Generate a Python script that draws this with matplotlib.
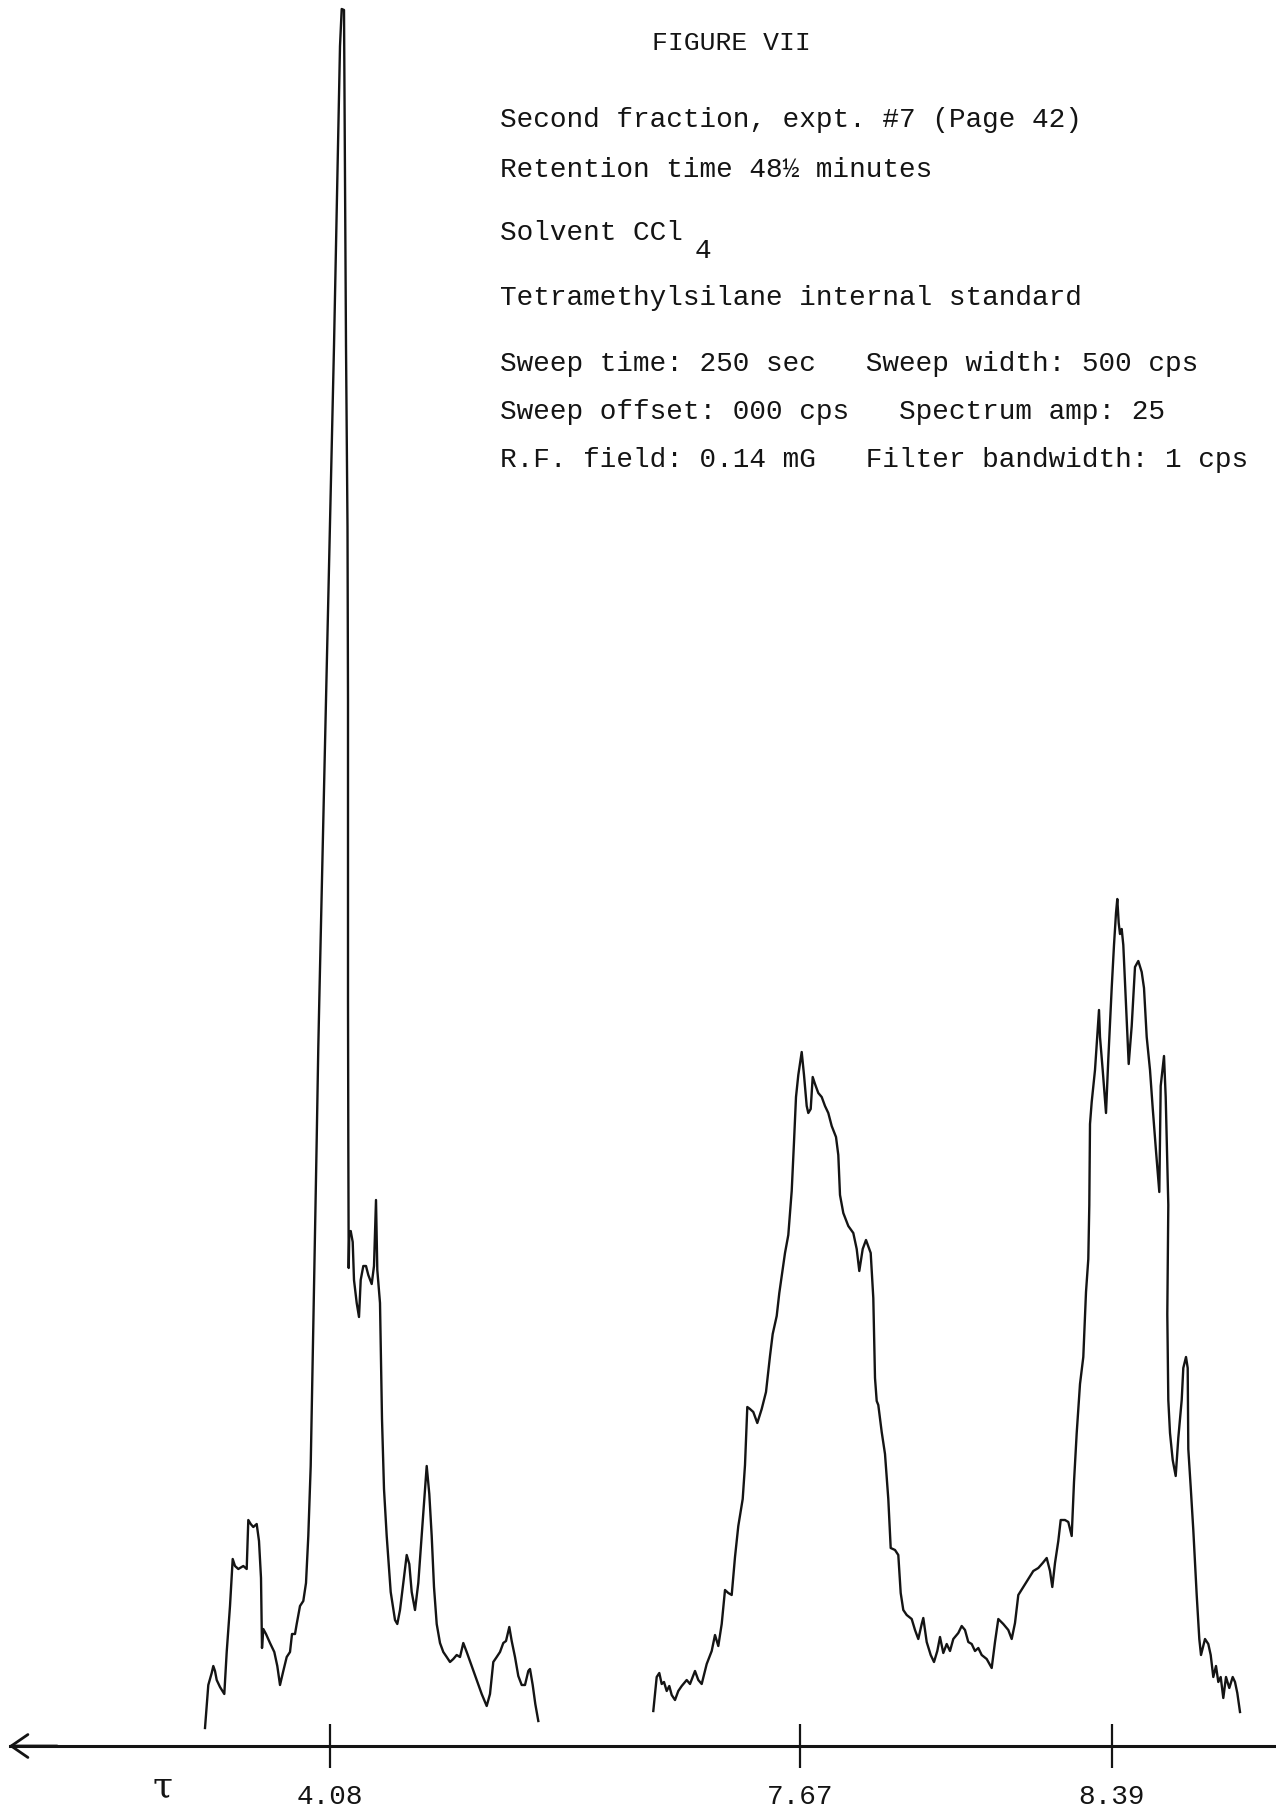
import matplotlib
matplotlib.use("Agg")
import matplotlib.pyplot as plt

# chart paper position (px along the recorder chart) and pen height above baseline
# left group: multiplet, tall sharp line and the small peaks after it
left_x = [205, 208.3, 211.7, 213.3, 215, 216.7, 220, 224.3, 226.7, 230, 232.7, 235,
          238.3, 243.3, 246.7, 248.3, 250.7, 253.3, 256.7, 259, 261, 262, 263.3, 266,
          270, 274.3, 277.3, 280, 283.3, 286.7, 290, 292, 295, 296.7, 300, 303.3, 306,
          308.3, 310.7, 313.3, 316.7, 318.3, 319.3, 326, 334, 340, 341.7, 344, 346,
          347.5, 348, 348, 348.3, 348.7, 349.3, 350.7, 352.7, 354, 356.7, 359, 360.7,
          363.3, 366, 368.3, 371.7, 374, 376, 377.3, 380, 382, 384, 386.7, 390.7, 395,
          397.3, 400, 403.3, 406.7, 409.3, 411.7, 415, 418.3, 423.3, 426.7, 429.3,
          431.7, 434, 436.7, 440, 443.3, 446.7, 450, 453.3, 456.7, 460, 463.3, 466.7,
          471.7, 476.7, 481.7, 486.7, 490, 493.3, 496.7, 500, 503.3, 506, 509.3, 511.7,
          515, 518.3, 521.7, 525, 528.3, 530, 532.7, 535.3, 538.3]
left_h = [18, 61, 73, 80, 75, 66, 59, 52, 94, 140, 187, 180,
          177, 180, 177, 226, 222, 219, 222, 205, 168, 98, 117, 112,
          103, 94, 80, 61, 75, 89, 94, 112, 112, 122, 140, 145, 163,
          210, 280, 420, 606, 699, 746, 1046, 1400, 1700, 1737, 1736, 1400,
          1219, 1046, 746, 606, 478, 513, 515, 504, 466, 443, 429, 466,
          480, 480, 471, 462, 480, 546, 476, 443, 327, 257, 210, 154, 126,
          122, 136, 163, 191, 182, 154, 136, 163, 233, 280, 252,
          210, 159, 122, 103, 94, 89, 84, 87, 91, 89, 103, 94,
          80, 66, 52, 40, 52, 84, 89, 94, 103, 105, 119, 105,
          89, 70, 61, 61, 75, 77, 61, 42, 25]

# right trace: broad band, valley, then the split band at the right
right_x = [653.3, 656.7, 659.3, 661.7, 664, 666.7, 669.3, 671.7, 675, 678.3, 681.7,
           686.7, 690, 695, 698.3, 701.7, 706.7, 711.7, 715, 718.3, 721.7, 725, 728.3,
           731.7, 735, 738.3, 742.7, 745, 747.3, 750, 753.3, 757.3, 761.7, 766, 770,
           772.7, 776.7, 779.3, 781.7, 785, 788.3, 791.7, 794, 796, 798.3, 801.7, 804,
           806.7, 808.3, 810.7, 812.7, 815, 818.3, 821.7, 825, 828.3, 831.7, 836, 838.3,
           840, 843.3, 848.3, 853.3, 856.7, 859.3, 862.7, 866, 869.3, 870.7, 873.3, 875,
           876.7, 878.3, 881.7, 885, 888.3, 890.7, 895, 898.3, 900.7, 903.3, 906.7,
           911.7, 915, 918.3, 921.7, 923.3, 926.7, 930.7, 934, 937.3, 940, 943.3, 946.7,
           950, 953.3, 958.3, 961.7, 965, 968.3, 971.7, 975, 978.3, 981.7, 986.7, 991.7,
           995, 998.3, 1003.3, 1008.3, 1011.7, 1015, 1018.3, 1023.3, 1028.3, 1033.3,
           1038.3, 1042.7, 1046.7, 1050, 1052.3, 1055, 1058.3, 1060.7, 1065, 1068.3,
           1071.7, 1074, 1076.7, 1080, 1083.3, 1086, 1088.3, 1089.3, 1090, 1091.7, 1095,
           1099, 1100, 1102.7, 1106, 1108.3, 1111.7, 1114, 1116, 1117.3, 1118.7, 1120,
           1121.7, 1123.3, 1126, 1128.7, 1131.7, 1135, 1138.3, 1141.7, 1144, 1146.7,
           1150, 1152.7, 1156, 1159.3, 1160.7, 1164, 1165.7, 1167.3, 1168.3, 1167.3,
           1168.3, 1170, 1172.7, 1175.7, 1178.3, 1181.7, 1183.3, 1186, 1187.7, 1188.3,
           1190.7, 1193.3, 1196.7, 1199.3, 1201, 1205, 1208.3, 1210.7, 1213.3, 1216,
           1218.3, 1220.7, 1223.3, 1226, 1229.3, 1232.7, 1235, 1237.3, 1240]
right_h = [35, 69, 73, 62, 64, 55, 60, 51, 46, 55, 60,
           66, 62, 75, 66, 62, 82, 95, 111, 100, 122, 156, 153,
           151, 189, 220, 247, 281, 339, 337, 334, 323, 337, 354, 390,
           412, 430, 453, 470, 493, 511, 555, 604, 649, 671, 694, 671,
           640, 633, 637, 669, 662, 653, 649, 640, 633, 620, 609, 591,
           551, 533, 520, 513, 497, 475, 497, 506, 497, 493, 448, 368,
           345, 341, 314, 292, 247, 198, 196, 191, 153, 136, 131,
           127, 116, 107, 122, 128, 104, 91, 84, 95, 109, 93, 102,
           95, 107, 113, 120, 116, 104, 102, 95, 98, 91, 87, 78,
           104, 127, 122, 116, 107, 123, 151, 159, 167, 175,
           178, 183, 188, 175, 159, 183, 205, 226, 226, 224,
           210, 264, 313, 362, 389, 454, 487, 541, 622, 644, 676,
           736, 709, 676, 633, 687, 758, 801, 833, 847, 823, 812,
           817, 801, 741, 682, 720, 779, 785, 774, 758, 709,
           676, 638, 595, 554, 660, 690, 649, 584, 541, 432,
           346, 313, 286, 270, 308, 346, 378, 389, 378, 297,
           259, 216, 151, 107, 91, 107, 102, 91, 69, 80,
           64, 69, 48, 69, 58, 69, 64, 53, 34]

tick_pos = [330, 800, 1112]
tick_labels = ["4.08", "7.67", "8.39"]

header = [
    "Second fraction, expt. #7 (Page 42)",
    "Retention time 48½ minutes",
    "Solvent CCl",
    "Tetramethylsilane internal standard",
    "Sweep time: 250 sec   Sweep width: 500 cps",
    "Sweep offset: 000 cps   Spectrum amp: 25",
    "R.F. field: 0.14 mG   Filter bandwidth: 1 cps",
]
header_h = [1619, 1569, 1506, 1441, 1375, 1327, 1279]

ink = "#141414"
mono = ["Liberation Mono", "DejaVu Sans Mono"]

fig = plt.figure(figsize=(12.76, 18.11), dpi=100)
fig.patch.set_facecolor("white")
ax = fig.add_axes([0, 0, 1, 1])
ax.set_xlim(0, 1276)
ax.set_ylim(-65, 1746)

ax.plot(left_x, left_h, color=ink, lw=1.7, solid_joinstyle="round")
ax.plot(right_x, right_h, color=ink, lw=1.7, solid_joinstyle="round")

# baseline with the tau ticks
for s in ["top", "left", "right"]:
    ax.spines[s].set_visible(False)
ax.spines["bottom"].set_position(("data", 0))
ax.spines["bottom"].set_bounds(10, 1276)
ax.spines["bottom"].set_linewidth(2.2)
ax.spines["bottom"].set_color(ink)
ax.set_yticks([])
ax.set_xticks(tick_pos)
ax.set_xticklabels(tick_labels, family=mono, fontsize=20, color=ink)
ax.tick_params(axis="x", direction="inout", length=32, width=1.6,
               color=ink, pad=11)
ax.annotate("", xy=(6, 0), xytext=(60, 0),
            arrowprops=dict(arrowstyle="->,head_length=0.8,head_width=0.55",
                            lw=2, color=ink, mutation_scale=15))
ax.text(162, -50, "τ", fontsize=26, family="DejaVu Serif", color=ink,
        ha="center", va="baseline")

# typed notes
ax.text(652, 1696, "FIGURE VII", family=mono, fontsize=19, color=ink,
        va="baseline")
for line, h in zip(header, header_h):
    ax.text(500, h, line, family=mono, fontsize=20, color=ink, va="baseline")
ax.text(695, 1488, "4", family=mono, fontsize=20, color=ink, va="baseline")

fig.savefig("out.png", dpi=100, facecolor="white")
